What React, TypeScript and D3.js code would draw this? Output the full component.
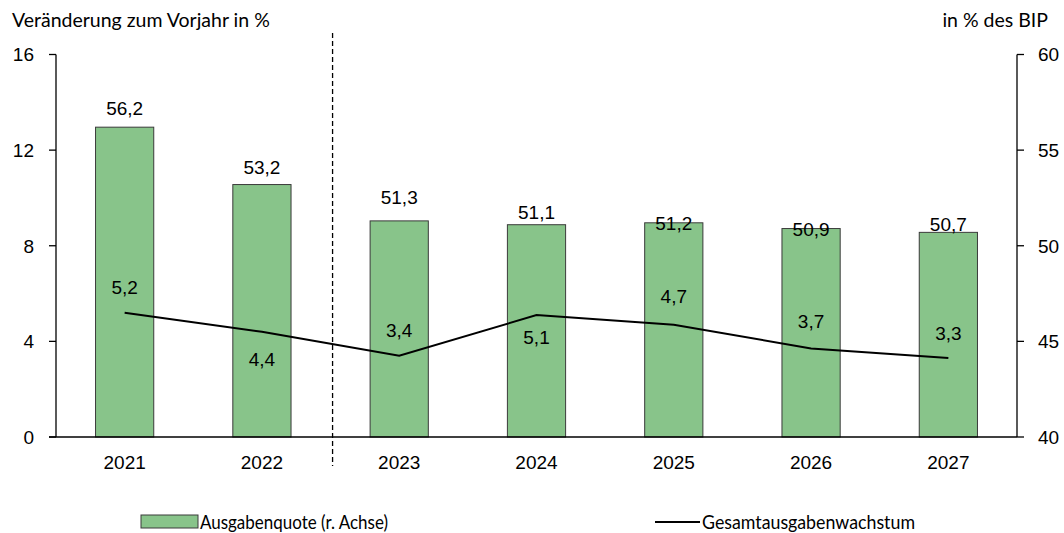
import React from 'react';
import * as d3 from 'd3';

const years = ['2021', '2022', '2023', '2024', '2025', '2026', '2027'];
const ausgabenquote = [56.2, 53.2, 51.3, 51.1, 51.2, 50.9, 50.7];
const wachstum = [5.2, 4.4, 3.4, 5.1, 4.7, 3.7, 3.3];
const leftTicks = [0, 4, 8, 12, 16];
const rightTicks = [40, 45, 50, 55, 60];
const leftTitle = 'Veränderung zum Vorjahr in %';
const rightTitle = 'in % des BIP';
const legendBar = 'Ausgabenquote (r. Achse)';
const legendLine = 'Gesamtausgabenwachstum';
// label offsets (px) relative to mark, as placed in the original
const barLabelDy = [-19, -17, -24, -13, 0, 1, -8];
const lineLabelDy = [-26, 27, -26, 22, -28, -27, -25];

const W = 1064;
const H = 533;
const X0 = 56;
const X1 = 1017;
const Y0 = 437;
const Y1 = 54.5;

const fmt = (v: number) => v.toFixed(1).replace('.', ',');

export default function App() {
  const x = d3.scaleBand<string>().domain(years).range([X0, X1]).paddingInner(0.576).paddingOuter(0.288);
  const yL = d3.scaleLinear().domain([0, 16]).range([Y0, Y1]);
  const yR = d3.scaleLinear().domain([40, 60]).range([Y0, Y1]);
  const cx = (d: string) => (x(d) as number) + x.bandwidth() / 2;
  const line = d3
    .line<number>()
    .x((_, i) => cx(years[i]))
    .y((d) => yL(d));
  const sepX = (cx(years[1]) + cx(years[2])) / 2 + 2;
  const arial = "'Liberation Sans', Arial, sans-serif";
  const cal = "Lato, Carlito, Calibri, sans-serif";
  const green = '#88C48A';
  const fs = 19;

  return (
    <svg width={W} height={H} style={{ position: 'absolute', left: 0, top: 0, background: '#fff' }}>
      <rect x={0} y={0} width={W} height={H} fill="#fff" />
      {/* titles */}
      <text x={12} y={27} fontFamily={cal} fontSize={19.5} fill="#000">{leftTitle}</text>
      <text x={1048} y={27} fontFamily={cal} fontSize={19.5} fill="#000" textAnchor="end">{rightTitle}</text>

      {/* bars */}
      {years.map((yr, i) => (
        <rect
          key={yr}
          x={x(yr)}
          y={yR(ausgabenquote[i])}
          width={x.bandwidth()}
          height={Y0 - yR(ausgabenquote[i])}
          fill={green}
          stroke="#3a3a3a"
          strokeWidth={1}
        />
      ))}

      {/* separator */}
      <line x1={sepX} x2={sepX} y1={33} y2={466} stroke="#000" strokeWidth={1.3} strokeDasharray="5,3" />

      {/* line */}
      <path d={line(wachstum) || ''} fill="none" stroke="#000" strokeWidth={2} />

      {/* axes */}
      <line x1={X0} x2={X0} y1={Y1} y2={Y0} stroke="#000" strokeWidth={1.3} />
      <line x1={X1} x2={X1} y1={Y1} y2={Y0} stroke="#000" strokeWidth={1.3} />
      <line x1={X0 - 7} x2={X1} y1={Y0} y2={Y0} stroke="#000" strokeWidth={1.3} />
      {leftTicks.map((t) => (
        <g key={'l' + t}>
          <line x1={X0 - 7} x2={X0} y1={yL(t)} y2={yL(t)} stroke="#000" strokeWidth={1.3} />
          <text x={34} y={yL(t)} dy="0.36em" textAnchor="end" fontFamily={arial} fontSize={fs}>{t}</text>
        </g>
      ))}
      {rightTicks.map((t) => (
        <g key={'r' + t}>
          <line x1={X1} x2={X1 + 7} y1={yR(t)} y2={yR(t)} stroke="#000" strokeWidth={1.3} />
          <text x={1038} y={yR(t)} dy="0.36em" textAnchor="start" fontFamily={arial} fontSize={fs}>{t}</text>
        </g>
      ))}
      {years.map((yr) => (
        <text key={'x' + yr} x={cx(yr)} y={469} textAnchor="middle" fontFamily={arial} fontSize={fs}>{yr}</text>
      ))}

      {/* bar labels */}
      {years.map((yr, i) => (
        <text key={'bl' + yr} x={cx(yr)} y={yR(ausgabenquote[i]) + barLabelDy[i]} dy="0.36em" textAnchor="middle" fontFamily={arial} fontSize={fs}>
          {fmt(ausgabenquote[i])}
        </text>
      ))}
      {/* line labels */}
      {years.map((yr, i) => (
        <text key={'ll' + yr} x={cx(yr)} y={yL(wachstum[i]) + lineLabelDy[i]} dy="0.36em" textAnchor="middle" fontFamily={arial} fontSize={fs}>
          {fmt(wachstum[i])}
        </text>
      ))}

      {/* legend */}
      <rect x={141} y={515} width={57} height={13} fill={green} stroke="#3a3a3a" strokeWidth={1} />
      <text x={200} y={522} dy="0.36em" fontFamily={cal} fontSize={19} textLength={188} lengthAdjust="spacingAndGlyphs">{legendBar}</text>
      <line x1={655} x2={700} y1={522} y2={522} stroke="#000" strokeWidth={2} />
      <text x={702} y={522} dy="0.36em" fontFamily={cal} fontSize={19} textLength={213} lengthAdjust="spacingAndGlyphs">{legendLine}</text>
    </svg>
  );
}
